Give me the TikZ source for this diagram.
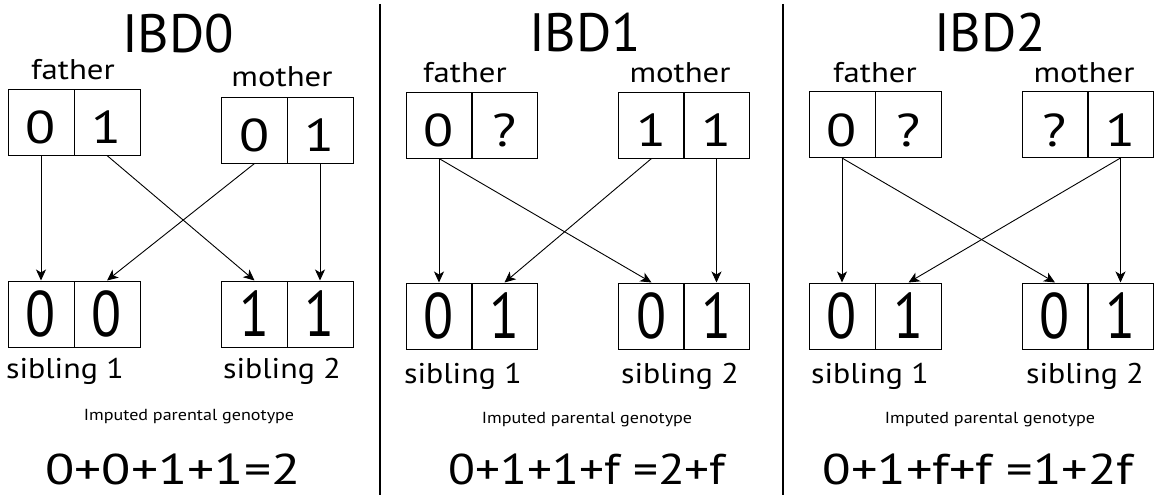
\documentclass[tikz,border=0pt]{standalone}
\usepackage{fontspec}
\setmainfont{PT Sans}
\usetikzlibrary{arrows.meta}
% horizontally widened text
\newcommand\wideby[2]{\scalebox{#1}[1]{#2}}
% allele digits: parents plain, siblings stretched upward
\newcommand\pal[1]{\scalebox{1.2}[1]{#1}}
\newcommand\sal[1]{\scalebox{1.2}[1.4]{#1}}
\begin{document}
\begin{tikzpicture}[x=1pt,y=-1pt,
  cell/.style={draw=black,line width=1pt,minimum width=66pt,minimum height=66pt,inner sep=0pt,
    text depth=0pt,font=\fontsize{46}{46}\selectfont},
  pcell/.style={cell,text height=43pt},
  scell/.style={cell,text height=45pt},
  title/.style={anchor=base,inner sep=0pt,font=\fontsize{54}{54}\selectfont},
  who/.style={anchor=base,inner sep=0pt,font=\fontsize{28.5}{28.5}\selectfont},
  note/.style={anchor=base,inner sep=0pt,font=\fontsize{16}{16}\selectfont},
  sum/.style={anchor=base,inner sep=0pt,font=\fontsize{43}{43}\selectfont},
  inherit/.style={line width=0.9pt,-{Stealth[length=11pt,width=10pt,inset=3pt]}},
  divider/.style={line width=1.3pt}]
\useasboundingbox (0,0) rectangle (1154,495);

% panel separators
\coordinate (s1t) at (380,4); \coordinate (s1b) at (380,495);
\coordinate (s2t) at (783,4); \coordinate (s2b) at (783,495);
\draw[divider] (s1t) -- (s1b);
\draw[divider] (s2t) -- (s2b);

% ---------- IBD0 ----------
\node[title] (t0) at (178,53) {IBD0};
\node[who] (fa0) at (73,80) {\wideby{1.15}{father}};
\node[who] (mo0) at (282,87) {\wideby{1.15}{mother}};
\node[pcell] (f0a) at (41,122) {\pal{0}};
\node[pcell] (f0b) at (107,122) {\pal{1}};
\node[pcell] (m0a) at (254.5,130) {\pal{0}};
\node[pcell] (m0b) at (320,130) {\pal{1}};
\node[scell] (a0a) at (41,314) {\sal{0}};
\node[scell] (a0b) at (107,314) {\sal{0}};
\node[scell] (b0a) at (254.5,314) {\sal{1}};
\node[scell] (b0b) at (320,314) {\sal{1}};
\node[who] (sa0) at (65,378) {\wideby{1.12}{sibling 1}};
\node[who] (sb0) at (282,378) {\wideby{1.12}{sibling 2}};
\node[note] (n0) at (189,420) {\wideby{1.13}{Imputed parental genotype}};
\node[sum] (e0) at (173,484) {\wideby{1.25}{0+0+1+1=2}};
\draw[inherit] (f0a.south) -- (a0a.north);
\draw[inherit] (f0b.south) -- (b0a.north);
\draw[inherit] (m0a.south) -- (a0b.north);
\draw[inherit] (m0b.south) -- (b0b.north);

% ---------- IBD1 ----------
\node[title] (t1) at (585,52) {IBD1};
\node[who] (fa1) at (465,83) {\wideby{1.15}{father}};
\node[who] (mo1) at (680,83) {\wideby{1.15}{mother}};
\node[pcell] (f1a) at (439,125) {\pal{0}};
\node[pcell] (f1b) at (504.5,125) {\pal{?}};
\node[pcell] (m1a) at (651.5,125) {\pal{1}};
\node[pcell] (m1b) at (716.5,125) {\pal{1}};
\node[scell] (a1a) at (439,316) {\sal{0}};
\node[scell] (a1b) at (504.5,316) {\sal{1}};
\node[scell] (b1a) at (651.5,316) {\sal{0}};
\node[scell] (b1b) at (716.5,316) {\sal{1}};
\node[who] (sa1) at (463,383) {\wideby{1.12}{sibling 1}};
\node[who] (sb1) at (680,383) {\wideby{1.12}{sibling 2}};
\node[note] (n1) at (587,423) {\wideby{1.13}{Imputed parental genotype}};
\node[sum] (e1) at (587,484) {\wideby{1.15}{0+1+1+f =2+f}};
\draw[inherit] (f1a.south) -- (a1a.north);
\draw[inherit] (f1a.south) -- (b1a.north);
\draw[inherit] (m1a.south) -- (a1b.north);
\draw[inherit] (m1b.south) -- (b1b.north);

% ---------- IBD2 ----------
\node[title] (t2) at (990,52) {IBD2};
\node[who] (fa2) at (875,83) {\wideby{1.15}{father}};
\node[who] (mo2) at (1084,83) {\wideby{1.15}{mother}};
\node[pcell] (f2a) at (842,124.5) {\pal{0}};
\node[pcell] (f2b) at (908.5,124.5) {\pal{?}};
\node[pcell] (m2a) at (1055,124.5) {\pal{?}};
\node[pcell] (m2b) at (1120.5,124.5) {\pal{1}};
\node[scell] (a2a) at (842,316) {\sal{0}};
\node[scell] (a2b) at (908.5,316) {\sal{1}};
\node[scell] (b2a) at (1055,316) {\sal{0}};
\node[scell] (b2b) at (1120.5,316) {\sal{1}};
\node[who] (sa2) at (870,383) {\wideby{1.12}{sibling 1}};
\node[who] (sb2) at (1085,383) {\wideby{1.12}{sibling 2}};
\node[note] (n2) at (990,423) {\wideby{1.13}{Imputed parental genotype}};
\node[sum] (e2) at (978,484) {\wideby{1.22}{0+1+f+f =1+2f}};
\draw[inherit] (f2a.south) -- (a2a.north);
\draw[inherit] (f2a.south) -- (b2a.north);
\draw[inherit] (m2b.south) -- (a2b.north);
\draw[inherit] (m2b.south) -- (b2b.north);
\end{tikzpicture}
\end{document}
